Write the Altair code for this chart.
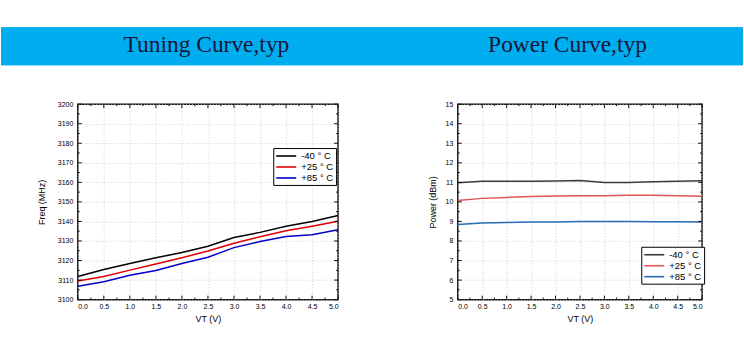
import altair as alt
import pandas as pd

# ---------------- data ----------------
vt = [0.0, 0.5, 1.0, 1.5, 2.0, 2.5, 3.0, 3.5, 4.0, 4.5, 5.0]
vt_minor = [0.25, 0.75, 1.25, 1.75, 2.25, 2.75, 3.25, 3.75, 4.25, 4.75]
series = ["-40 ° C", "+25 ° C", "+85 ° C"]

freq_m40 = [3111.8, 3115.4, 3118.5, 3121.4, 3124.1, 3127.3, 3131.8, 3134.4, 3137.5, 3140.0, 3143.0]
freq_p25 = [3109.5, 3111.8, 3115.1, 3118.2, 3121.4, 3124.9, 3128.8, 3132.2, 3135.2, 3137.5, 3140.1]
freq_p85 = [3106.9, 3109.1, 3112.5, 3114.9, 3118.5, 3121.7, 3126.6, 3129.7, 3132.3, 3133.2, 3135.8]

pow_m40 = [10.98, 11.06, 11.06, 11.06, 11.07, 11.10, 10.99, 10.99, 11.03, 11.06, 11.08]
pow_p25 = [10.07, 10.18, 10.23, 10.27, 10.30, 10.32, 10.32, 10.34, 10.34, 10.31, 10.29]
pow_p85 = [8.84, 8.92, 8.95, 8.97, 8.97, 9.00, 9.00, 9.00, 8.99, 8.99, 8.97]

freq_ticks = [3100, 3110, 3120, 3130, 3140, 3150, 3160, 3170, 3180, 3190, 3200]
freq_minor = [3105, 3115, 3125, 3135, 3145, 3155, 3165, 3175, 3185, 3195]
pow_ticks = [5, 6, 7, 8, 9, 10, 11, 12, 13, 14, 15]
pow_minor = [5.5, 6.5, 7.5, 8.5, 9.5, 10.5, 11.5, 12.5, 13.5, 14.5]

banner_titles = ["Tuning Curve,typ", "Power Curve,typ"]


def long_df(values):
    rows = []
    for s, vals in zip(series, values):
        for x, v in zip(vt, vals):
            rows.append({"vt": x, "val": v, "series": s})
    return pd.DataFrame(rows)


freq_df = long_df([freq_m40, freq_p25, freq_p85])
pow_df = long_df([pow_m40, pow_p25, pow_p85])

FONT = "Liberation Sans"
frame = alt.ViewBackground(stroke="#111111", strokeWidth=1.5)
noframe = alt.ViewBackground(stroke="transparent")


def axis_common(title, values, fmt, label_pad, title_pad):
    return alt.Axis(
        title=title, values=values, format=fmt,
        labelFont=FONT, labelFontSize=7, labelColor="black",
        titleFont=FONT, titleFontSize=9, titleFontWeight="normal", titleColor="black",
        domain=False, ticks=False,
        grid=True, gridColor="#c4c4c4", gridDash=[1, 2], gridWidth=0.8,
        labelPadding=label_pad, titlePadding=title_pad,
    )


def legend(x, y):
    return alt.Legend(
        title=None, orient="none", legendX=x, legendY=y,
        symbolType="M-2,0L2,0", symbolStrokeWidth=1.6, symbolSize=100,
        symbolOffset=5, labelOffset=9,
        labelFont=FONT, labelFontSize=9.5, labelColor="black",
        strokeColor="black", fillColor="white", padding=2,
        rowPadding=0,
    )


def inner_ticks(values, channel, w, h, size, xenc, yenc):
    df = pd.DataFrame({"v": values})
    layers = []
    if channel == "x":
        for y0, y1 in ((h, h - size), (0, size)):
            layers.append(alt.Chart(df).mark_rule(color="#111111", strokeWidth=1).encode(
                x=xenc("v:Q"), y=alt.value(y0), y2=alt.value(y1)))
    else:
        for x0, x1 in ((0, size), (w, w - size)):
            layers.append(alt.Chart(df).mark_rule(color="#111111", strokeWidth=1).encode(
                y=yenc("v:Q"), x=alt.value(x0), x2=alt.value(x1)))
    return layers


def panel(df, ytitle, yticks, yminor, ydom, colors, w, h, lx, ly, ytp):
    xscale = alt.Scale(domain=[0, 5], nice=False)
    yscale = alt.Scale(domain=ydom, nice=False, zero=False)
    xaxis = axis_common("VT (V)", vt, ".1f", 3, 5)
    yaxis = axis_common(ytitle, yticks, "d", 5, ytp)

    def xenc(f):
        return alt.X(f, scale=xscale, axis=xaxis)

    def yenc(f):
        return alt.Y(f, scale=yscale, axis=yaxis)

    lines = alt.Chart(df).mark_line(strokeWidth=1.5).encode(
        x=xenc("vt:Q"),
        y=yenc("val:Q"),
        color=alt.Color("series:N", scale=alt.Scale(domain=series, range=colors),
                        legend=legend(lx, ly)),
        detail="series:N",
    )
    ticks = (inner_ticks(vt, "x", w, h, 4, xenc, yenc) + inner_ticks(vt_minor, "x", w, h, 2, xenc, yenc)
             + inner_ticks(yticks, "y", w, h, 4, xenc, yenc) + inner_ticks(yminor, "y", w, h, 2, xenc, yenc))
    return alt.layer(lines, *ticks).properties(width=w, height=h, view=frame)


left = panel(freq_df, "Freq (MHz)", freq_ticks, freq_minor, [3100, 3200],
             ["#000000", "#e00000", "#0000c8"], 261, 196, 196, 44, 11)
right = panel(pow_df, "Power (dBm)", pow_ticks, pow_minor, [5, 15],
              ["#3c3c3c", "#e05555", "#2a6db5"], 245, 196, 184, 143, 8)


def spacer(w):
    return alt.Chart(pd.DataFrame({"a": [0]})).mark_point(opacity=0).encode(
        x=alt.value(w / 2), y=alt.value(5)
    ).properties(width=w, height=10, view=noframe)


# ---------------- banner ----------------
banner_rect = alt.Chart(pd.DataFrame({"t": banner_titles})).mark_rect(color="#00adef").encode(
    x=alt.value(0), x2=alt.value(744), y=alt.value(26), y2=alt.value(64)
)
t1 = alt.Chart(pd.DataFrame({"t": [banner_titles[0]]})).mark_text(
    font="Liberation Serif", fontSize=23.5, color="#15163a", baseline="middle"
).encode(x=alt.value(206), y=alt.value(44), text="t:N")
t2 = alt.Chart(pd.DataFrame({"t": [banner_titles[1]]})).mark_text(
    font="Liberation Serif", fontSize=23.5, color="#15163a", baseline="middle"
).encode(x=alt.value(568), y=alt.value(44), text="t:N")
banner = alt.layer(banner_rect, t1, t2).properties(width=744, height=97, view=noframe)

row = alt.hconcat(spacer(34), left, spacer(83), right, spacing=0).resolve_scale(
    color="independent"
).resolve_legend(color="independent")

chart = alt.vconcat(banner, row, spacing=0).properties(
    padding=0, background="white"
).configure_view(stroke="transparent")

chart.save("out.html", embed_options={"renderer": "svg", "actions": False})
